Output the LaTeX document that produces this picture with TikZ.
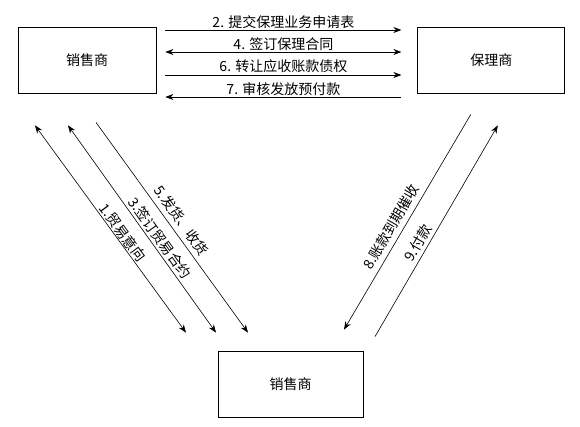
\documentclass[tikz,border=0pt]{standalone}
\usepackage{fontspec}
\setmainfont{Noto Sans CJK SC}
\usetikzlibrary{positioning,arrows.meta}
\tikzset{
  flow/.style={-{Stealth[length=8pt,width=6pt]},line width=0.6pt},
  backflow/.style={{Stealth[length=8pt,width=6pt]}-,line width=0.6pt},
  dualflow/.style={{Stealth[length=8pt,width=6pt]}-{Stealth[length=8pt,width=6pt]},line width=0.6pt},
  party/.style={draw,line width=0.8pt,minimum height=66pt,font=\fontsize{14}{16}\selectfont},
  steplabel/.style={font=\fontsize{14}{16}\selectfont,inner sep=1.5pt}
}

\begin{document}
\begin{tikzpicture}[x=1pt,y=-1pt]
  \useasboundingbox (0,0) rectangle (580,426);
  \node[party,minimum width=138pt] (seller) at (87,60) {销售商};
  \node[party,minimum width=147pt,right=261pt of seller.east,anchor=west] (factor) {保理商};
  \node[party,minimum width=145pt] (buyer) at (290.5,384) {销售商};
  % factoring between seller and factor
  \draw[flow] ([shift={(9,-30)}]seller.east) -- node[steplabel,above] {2. 提交保理业务申请表} ([shift={(-16,-30)}]factor.west);
  \draw[dualflow] ([shift={(9,-8)}]seller.east) -- node[steplabel,above] {4. 签订保理合同} ([shift={(-16,-8)}]factor.west);
  \draw[flow] ([shift={(9,15)}]seller.east) -- node[steplabel,above] {6. 转让应收账款债权} ([shift={(-16,15)}]factor.west);
  \draw[backflow] ([shift={(9,37)}]seller.east) -- node[steplabel,above] {7. 审核发放预付款} ([shift={(-16,37)}]factor.west);
  % trade between seller and buyer
  \draw[dualflow] ([shift={(-52,32)}]seller.south) -- node[steplabel,sloped,above,pos=0.54,inner sep=1pt] {1.贸易意向} ([shift={(-104.5,-18)}]buyer.north);
  \draw[dualflow] ([shift={(-19,32)}]seller.south) -- node[steplabel,sloped,above,pos=0.57,inner sep=2.5pt] {3.签订贸易合约} ([shift={(-74.5,-18)}]buyer.north);
  \draw[flow] ([shift={(9,29)}]seller.south) -- node[steplabel,sloped,above,inner sep=5pt] {5.发货、收货} ([shift={(-42.5,-18)}]buyer.north);
  % collection between factor and buyer
  \draw[backflow] ([shift={(53.5,-21)}]buyer.north) -- node[steplabel,sloped,above,pos=0.45,inner sep=5pt] {8.账款到期催收} ([shift={(-20.5,21)}]factor.south);
  \draw[flow] ([shift={(84.5,-14)}]buyer.north) -- node[steplabel,sloped,above,pos=0.42,inner sep=3pt] {9.付款} ([shift={(6.5,32)}]factor.south);
\end{tikzpicture}
\end{document}
